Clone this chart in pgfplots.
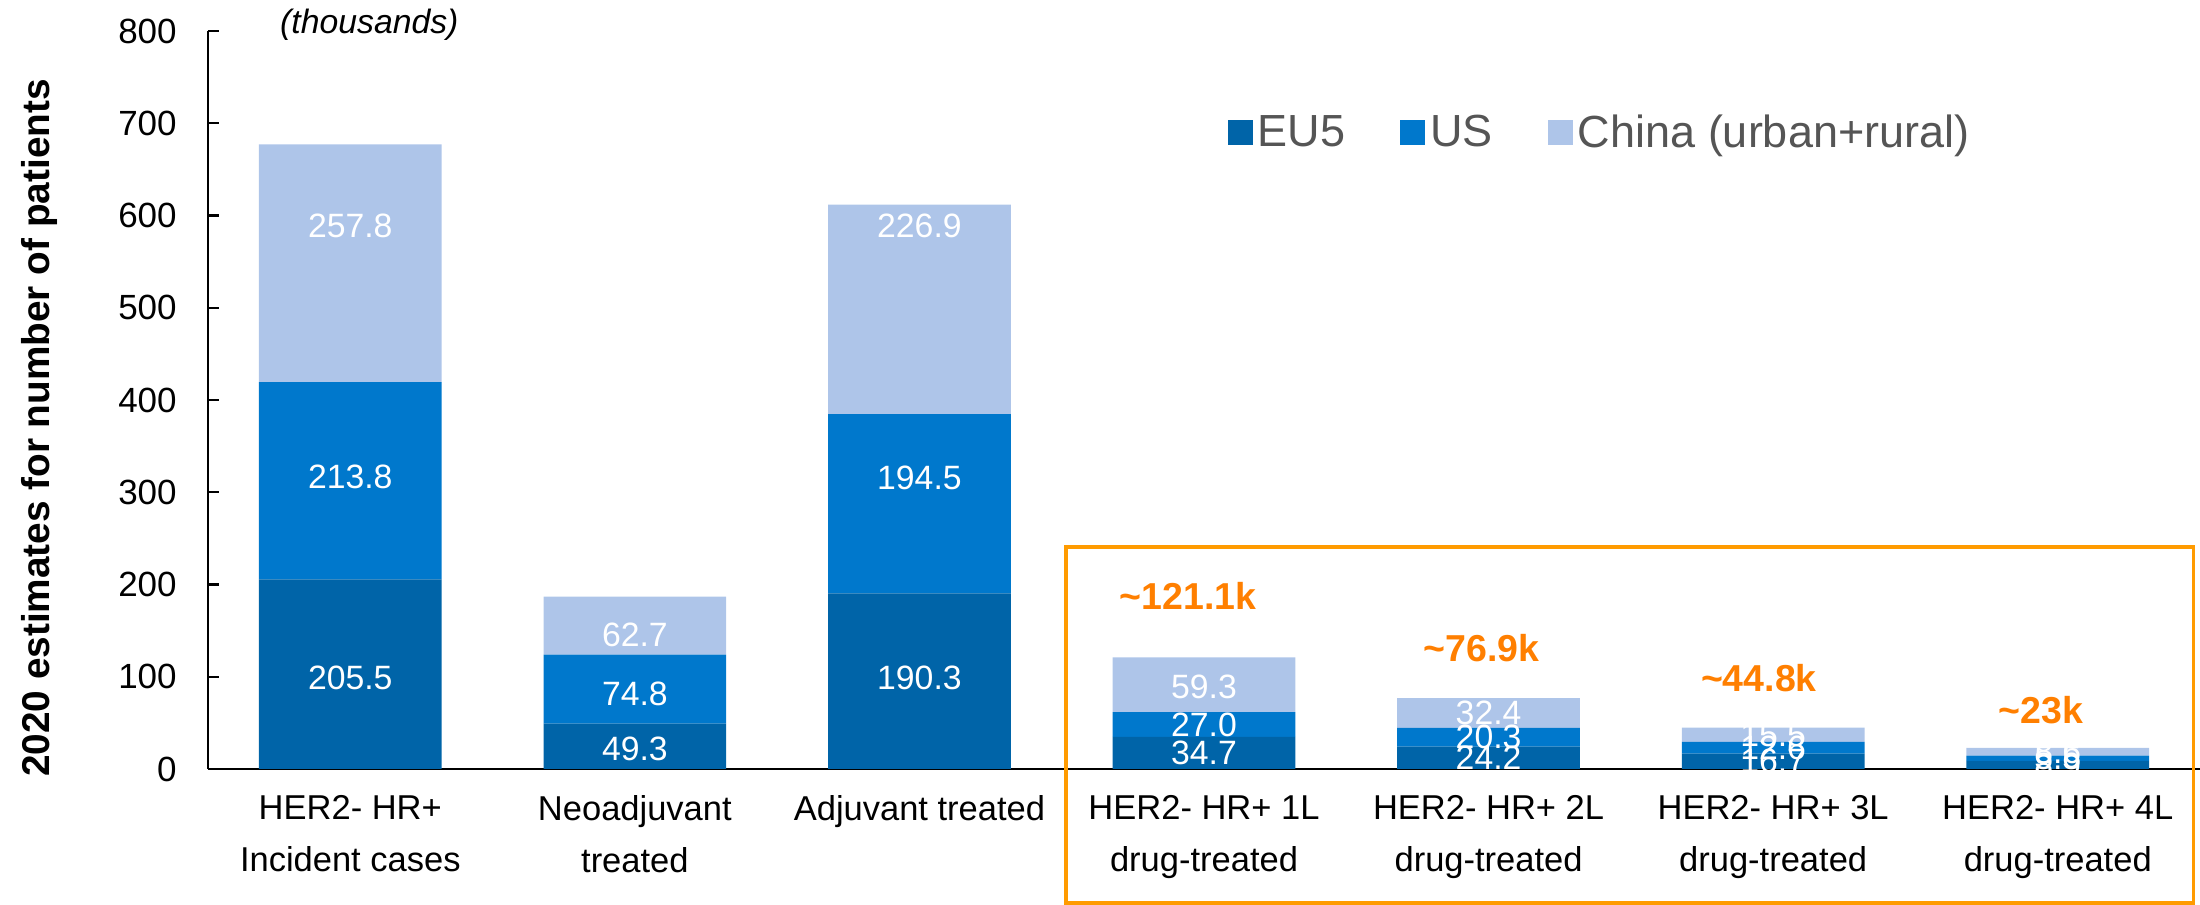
\documentclass[border=0pt]{standalone}
\usepackage{pgfplots}
\usepackage{pgfplotstable}
\pgfplotsset{compat=1.18}
\usepackage{fontspec}
\setmainfont{Liberation Sans}
\definecolor{eu}{RGB}{0,100,168}
\definecolor{us}{RGB}{0,120,204}
\definecolor{cn}{RGB}{174,197,233}
\definecolor{orng}{RGB}{255,127,0}
\definecolor{obox}{RGB}{255,155,0}
\definecolor{leg}{RGB}{85,85,85}
% x, value, label offset from segment centre (axis units)
\pgfplotstableread{
x y off
0 205.5 -4
1 49.3 -3
2 190.3 4
3 34.7 0
4 24.2 0
5 16.7 0
6 8.9 0
}\eutab
\pgfplotstableread{
x y off
0 213.8 4
1 74.8 -5
2 194.5 28
3 27.0 0
4 20.3 0
5 12.6 0
6 5.5 0
}\ustab
\pgfplotstableread{
x y off
0 257.8 41
1 62.7 -10
2 226.9 90
3 59.3 -2
4 32.4 0
5 15.5 0
6 8.6 0
}\cntab
\begin{document}
\begin{tikzpicture}
\begin{axis}[
  name=ax, scale only axis, width=796.8pt, height=295.2pt,
  ybar stacked, bar width=0.642,
  xmin=-0.5, xmax=6.5, ymin=0, ymax=800,
  axis x line=bottom, axis y line=left,
  axis line style={-, line width=0.9pt, black},
  xtick={0,...,6},
  xticklabels={{HER2- HR+\\Incident cases},{Neoadjuvant\\treated},{Adjuvant treated},{HER2- HR+ 1L\\drug-treated},{HER2- HR+ 2L\\drug-treated},{HER2- HR+ 3L\\drug-treated},{HER2- HR+ 4L\\drug-treated}},
  xtick style={draw=none},
  xticklabel style={align=center, font=\fontsize{13.8}{21}\selectfont, yshift=-7pt},
  ytick={0,100,...,800},
  tick align=inside, major tick length=4.4pt,
  ytick style={line width=0.9pt, black},
  yticklabel style={font=\fontsize{14}{16}\selectfont, xshift=-9pt},
  /pgf/number format/assume math mode=true,
  ylabel={2020 estimates for number of patients},
  ylabel style={font=\bfseries\fontsize{15.5}{18}\selectfont, at={(axis description cs:-0.0847,0.462)}, anchor=center},
  clip=false,
  legend style={at={(0.508,0.862)}, anchor=west, draw=none, fill=none, font=\fontsize{18}{20}\selectfont, text=leg, legend columns=3, /tikz/every even column/.append style={column sep=20pt}},
  legend image code/.code={\fill[#1,draw=none] (0pt,-5pt) rectangle (10pt,5pt);},
  nodes near coords={\pgfmathprintnumber[fixed,fixed zerofill,precision=1]{\pgfplotspointmeta}},
  point meta=rawy,
  visualization depends on={\thisrow{off} \as \off},
  every node near coord/.append style={anchor=center, text=white, font=\fontsize{13.5}{16}\selectfont, shift={(axis direction cs:0,\off)}},
]
\addplot[fill=eu, draw=none] table[x=x,y=y] {\eutab};
\addplot[fill=us, draw=none] table[x=x,y=y] {\ustab};
\addplot[fill=cn, draw=none] table[x=x,y=y] {\cntab};
\legend{EU5,US,China (urban+rural)}
\node[font=\itshape\fontsize{13.5}{16}\selectfont] at (axis cs:0.067,806.5) {(thousands)};
\node[font=\bfseries\fontsize{15}{18}\selectfont, text=orng] at (axis cs:2.944,187.5) {\textasciitilde121.1k};
\node[font=\bfseries\fontsize{15}{18}\selectfont, text=orng] at (axis cs:3.975,131) {\textasciitilde76.9k};
\node[font=\bfseries\fontsize{15}{18}\selectfont, text=orng] at (axis cs:4.95,98.6) {\textasciitilde44.8k};
\node[font=\bfseries\fontsize{15}{18}\selectfont, text=orng] at (axis cs:5.94,64) {\textasciitilde23k};
\draw[obox, line width=1.5pt] (axis cs:2.516,240.6) rectangle (axis cs:6.477,-145);
\end{axis}
\pgfresetboundingbox
\path[use as bounding box] ([xshift=-83.2pt,yshift=-54.4pt]ax.south west) rectangle ([yshift=12.4pt]ax.north east);
\end{tikzpicture}
\end{document}
